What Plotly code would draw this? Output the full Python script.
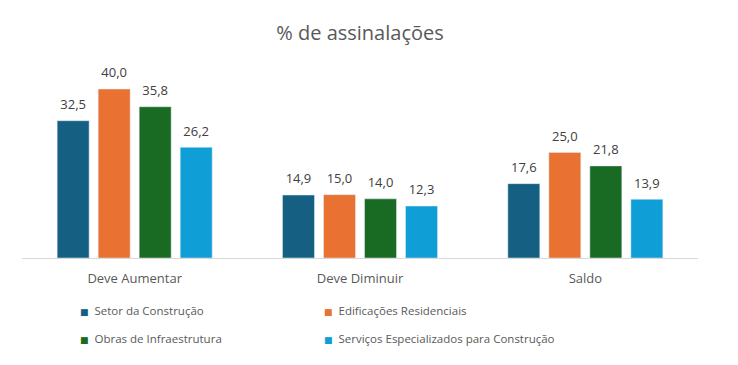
import plotly.graph_objects as go

categories = ["Deve Aumentar", "Deve Diminuir", "Saldo"]
series_names = ["Setor da Construção", "Edificações Residenciais",
                "Obras de Infraestrutura", "Serviços Especializados para Construção"]
setor = [32.5, 14.9, 17.6]
edificacoes = [40.0, 15.0, 25.0]
obras = [35.8, 14.0, 21.8]
servicos = [26.2, 12.3, 13.9]
colors = ["#156082", "#E97132", "#196B24", "#0F9ED5"]

# the page body adds an 8px margin, so the figure is 8px smaller than the window
W, H = 730, 357
GAP = 0.272
fig = go.Figure()
all_vals = [setor, edificacoes, obras, servicos]
for i, (name, vals, c) in enumerate(zip(series_names, all_vals, colors)):
    fig.add_trace(go.Bar(
        x=categories, y=vals, name=name, marker_color=c, showlegend=False,
        offsetgroup=str(i),
    ))
for i, (name, vals, c) in enumerate(zip(series_names, all_vals, colors)):
    fig.add_trace(go.Scatter(
        x=categories, y=vals, mode="markers+text", showlegend=False,
        marker=dict(size=12, opacity=0, color=c),
        text=[f"{v:.1f}".replace(".", ",") for v in vals],
        textposition="top center", cliponaxis=False, offsetgroup=str(i),
        textfont=dict(size=13, color="#404040"), hoverinfo="skip",
    ))

legend_ids = ["legend", "legend2", "legend3", "legend4"]
legend_x = [32, 276, 32, 276]
legend_y = [302, 302, 330, 330]
for i, (name, c) in enumerate(zip(series_names, colors)):
    label = (f"<span style='color:{c};font-size:9px;font-family:DejaVu Sans'>■</span>"
             f"&nbsp;&nbsp;{name}")
    fig.add_trace(go.Scatter(
        x=[None], y=[None], mode="markers", name=label, legend=legend_ids[i],
        marker=dict(symbol="square", size=7, color="rgba(0,0,0,0)"),
    ))

legends = {}
for lid, lx, ly in zip(legend_ids, legend_x, legend_y):
    legends[lid] = dict(orientation="h", xref="container", yref="container",
                        x=lx / W, y=1 - ly / H, xanchor="left", yanchor="middle",
                        font=dict(size=11.5, color="#595959"), itemsizing="trace",
                        bgcolor="rgba(0,0,0,0)")

fig.update_layout(
    width=W, height=H,
    paper_bgcolor="white", plot_bgcolor="white",
    font=dict(family="Open Sans, Noto Sans, sans-serif", color="#595959"),
    title=dict(text="% de assinalações", x=352 / W, xanchor="center", y=1 - 25 / H,
               yanchor="middle", font=dict(size=20, color="#595959")),
    barmode="group", bargap=GAP, bargroupgap=0.22,
    scattermode="group", scattergap=GAP,
    margin=dict(l=14, r=40, t=62, b=107, autoexpand=False),
    xaxis=dict(showline=True, linecolor="#D9D9D9", linewidth=1, ticks="",
               ticklabelstandoff=8,
               tickfont=dict(size=13, color="#595959"), automargin=False),
    yaxis=dict(visible=False, range=[0, 44.5], automargin=False),
    showlegend=True,
    **legends,
)

fig.write_html("out.html")
